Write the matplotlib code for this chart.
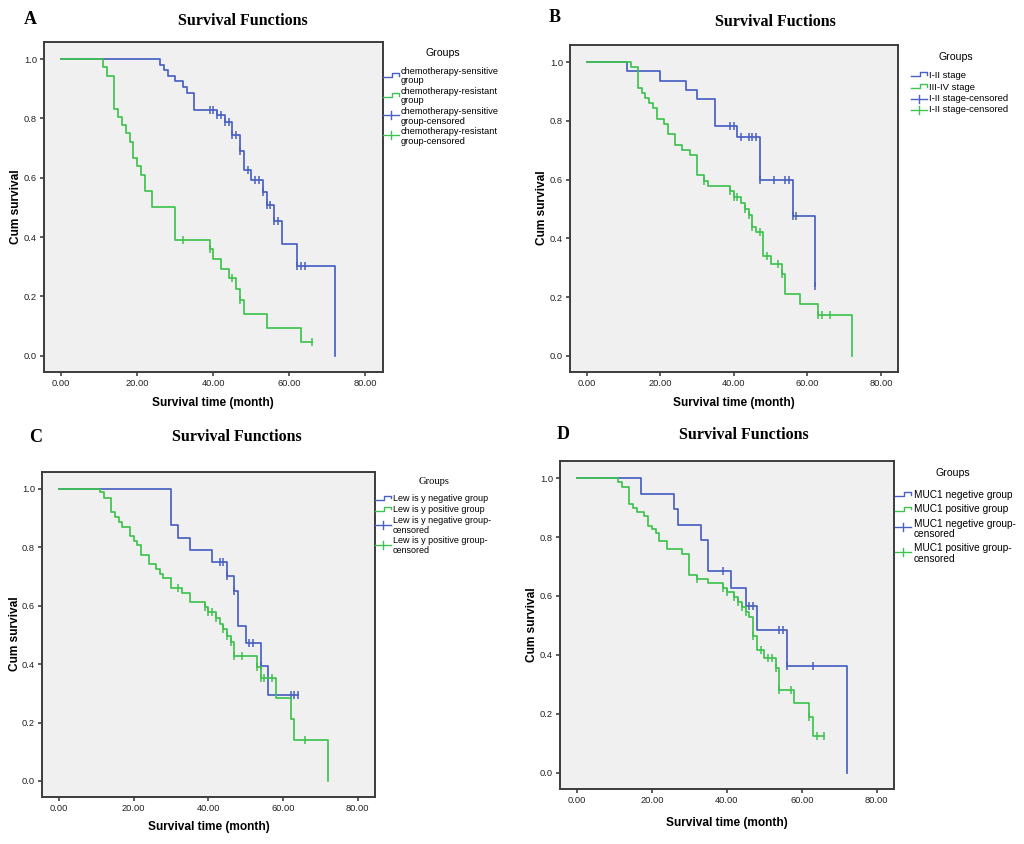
import numpy as np
import matplotlib
matplotlib.use('Agg')
import matplotlib.pyplot as plt
from matplotlib.lines import Line2D
from matplotlib.ticker import FormatStrFormatter

# ---- data ----
# A: chemotherapy-sensitive vs resistant
a_sens_t = [0, 26, 27, 28, 30, 32, 33, 35, 41, 43, 45, 47, 48, 50, 53, 54, 56, 58, 62, 72]
a_sens_s = [1.0, 0.981, 0.962, 0.943, 0.925, 0.906, 0.887, 0.830, 0.811, 0.789, 0.743, 0.691,
            0.625, 0.591, 0.551, 0.507, 0.453, 0.378, 0.301, 0.0]
a_sens_c = [39, 40, 41, 42, 43, 44, 45, 46, 47, 49, 51, 52, 53, 54, 55, 56, 57, 62, 63, 64]
a_res_t = [0, 11, 12, 14, 15, 16, 17, 18, 19, 20, 21, 22, 24, 30, 39, 40, 42, 44, 46, 47, 48, 54, 63]
a_res_s = [1.0, 0.972, 0.944, 0.833, 0.806, 0.778, 0.750, 0.722, 0.667, 0.639, 0.611, 0.556,
           0.500, 0.389, 0.360, 0.327, 0.294, 0.261, 0.224, 0.187, 0.140, 0.093, 0.047]
a_res_c = [32, 39, 45, 47, 66]

# B: I-II stage vs III-IV stage
b_early_t = [0, 11, 20, 27, 30, 35, 41, 47, 56, 62]
b_early_s = [1.0, 0.968, 0.937, 0.906, 0.875, 0.781, 0.746, 0.597, 0.477, 0.239]
b_early_c = [39, 40, 42, 44, 45, 46, 47, 51, 54, 55, 56, 57, 62]
b_late_t = [0, 12, 14, 15, 16, 17, 18, 19, 21, 22, 24, 26, 28, 30, 32, 33, 39, 40, 42, 43, 44,
            45, 46, 48, 50, 53, 54, 58, 63, 72]
b_late_s = [1.0, 0.982, 0.912, 0.895, 0.877, 0.860, 0.842, 0.807, 0.789, 0.754, 0.719, 0.702,
            0.684, 0.614, 0.596, 0.578, 0.560, 0.542, 0.521, 0.500, 0.480, 0.440, 0.420, 0.340,
            0.312, 0.280, 0.210, 0.175, 0.140, 0.0]
b_late_c = [32, 39, 40, 41, 43, 44, 45, 47, 49, 52, 53, 63, 64, 66]

# C: Lewis y negative vs positive
c_neg_t = [0, 30, 32, 35, 41, 45, 47, 48, 50, 54, 56]
c_neg_s = [1.0, 0.875, 0.833, 0.792, 0.750, 0.703, 0.650, 0.532, 0.473, 0.393, 0.295]
c_neg_c = [43, 44, 45, 47, 51, 52, 54, 62, 63, 64]
c_pos_t = [0, 11, 12, 14, 15, 16, 17, 19, 20, 21, 22, 24, 26, 27, 28, 30, 33, 35, 39, 40, 42,
           43, 44, 45, 46, 47, 53, 54, 58, 62, 63, 72]
c_pos_s = [1.0, 0.988, 0.970, 0.920, 0.903, 0.887, 0.871, 0.839, 0.823, 0.807, 0.775, 0.742,
           0.726, 0.710, 0.694, 0.662, 0.645, 0.613, 0.595, 0.578, 0.558, 0.538, 0.519, 0.498,
           0.477, 0.429, 0.390, 0.353, 0.283, 0.212, 0.141, 0.0]
c_pos_c = [32, 39, 40, 41, 42, 44, 45, 46, 47, 49, 53, 54, 55, 57, 66]

# D: MUC1 negative vs positive
d_neg_t = [0, 17, 26, 27, 33, 35, 41, 45, 48, 56, 72]
d_neg_s = [1.0, 0.947, 0.895, 0.842, 0.790, 0.684, 0.628, 0.565, 0.484, 0.363, 0.0]
d_neg_c = [39, 46, 47, 54, 55, 56, 63]
d_pos_t = [0, 11, 12, 14, 15, 16, 18, 19, 20, 21, 22, 24, 28, 30, 32, 35, 39, 40, 42, 43, 44,
           45, 46, 47, 48, 50, 53, 54, 58, 62, 63]
d_pos_s = [1.0, 0.986, 0.971, 0.913, 0.898, 0.886, 0.870, 0.839, 0.828, 0.815, 0.786, 0.758,
           0.742, 0.672, 0.657, 0.643, 0.626, 0.612, 0.595, 0.580, 0.563, 0.546, 0.528, 0.465,
           0.415, 0.388, 0.355, 0.282, 0.236, 0.188, 0.126]
d_pos_c = [32, 39, 40, 42, 43, 44, 45, 47, 49, 51, 52, 53, 54, 57, 62, 64, 66]

x_ticks = [0, 20, 40, 60, 80]
y_ticks = [0.0, 0.2, 0.4, 0.6, 0.8, 1.0]

W, H = 1024, 844
BLUE = '#4a60c2'
GREEN = '#3fc24f'
SANS = 'Liberation Sans'
SERIF = 'Liberation Serif'


def fx(x):
    return x / W


def fy(y):
    return 1 - y / H


def km(ax, t, s, cens, color):
    end = max(t[-1], max(cens))
    ax.step(list(t) + [end], list(s) + [s[-1]], where='post', color=color, lw=1.25)
    idx = np.searchsorted(t, cens, side='right') - 1
    ax.plot(cens, np.array(s)[idx], ls='none', marker='|', ms=6, mew=1.1, color=color)


def style(ax):
    ax.set_facecolor('#f0f0f0')
    ax.set_xlim(-4.5, 84.6)
    ax.set_ylim(-0.055, 1.058)
    ax.set_xticks(x_ticks)
    ax.set_yticks(y_ticks)
    ax.xaxis.set_major_formatter(FormatStrFormatter('%.2f'))
    ax.yaxis.set_major_formatter(FormatStrFormatter('%.1f'))
    ax.tick_params(length=3, width=1.1, color='#333333', labelsize=6.7, pad=2,
                   labelcolor='#222222')
    for lab in ax.get_xticklabels() + ax.get_yticklabels():
        lab.set_family(SANS)
    for sp in ax.spines.values():
        sp.set_color('#3c3c3c')
        sp.set_linewidth(1.4)


def legend(fig, title, title_xy, title_family, sx0, sx1, tx, items, fs):
    fig.text(fx(title_xy[0]), fy(title_xy[1]), title, family=title_family, fontsize=7.6,
             ha='center', va='center')
    for kind, color, label, ysym, ytxt in items:
        if kind == 'step':
            xm = sx0 + 0.55 * (sx1 - sx0)
            xs = [sx0, xm, xm, sx1, sx1]
            ys = [ysym, ysym, ysym - 4, ysym - 4, ysym - 1]
            fig.add_artist(Line2D([fx(v) for v in xs], [fy(v) for v in ys],
                                  transform=fig.transFigure, color=color, lw=1.0))
        else:
            fig.add_artist(Line2D([fx(sx0), fx(sx1)], [fy(ysym), fy(ysym)],
                                  transform=fig.transFigure, color=color, lw=1.0))
            xm = (sx0 + sx1) / 2
            fig.add_artist(Line2D([fx(xm), fx(xm)], [fy(ysym - 4), fy(ysym + 4)],
                                  transform=fig.transFigure, color=color, lw=1.0))
        fig.text(fx(tx), fy(ytxt), label, family=SANS, fontsize=fs, ha='left', va='center',
                 linespacing=1.12)


fig = plt.figure(figsize=(W / 100, H / 100), dpi=100)

panels = [
    dict(box=(44, 42, 383, 372), letter='A', letter_xy=(30, 19), title='Survival Functions',
         title_xy=(243, 21), xl=(213, 403), yl=(16, 207),
         curves=[(a_sens_t, a_sens_s, a_sens_c, BLUE), (a_res_t, a_res_s, a_res_c, GREEN)]),
    dict(box=(570, 45, 898, 372), letter='B', letter_xy=(555, 17), title='Survival Fuctions',
         title_xy=(775, 22), xl=(734, 403), yl=(542, 208),
         curves=[(b_early_t, b_early_s, b_early_c, BLUE), (b_late_t, b_late_s, b_late_c, GREEN)]),
    dict(box=(42, 472, 375, 797), letter='C', letter_xy=(36, 437), title='Survival Functions',
         title_xy=(237, 437), xl=(209, 827), yl=(15, 634),
         curves=[(c_neg_t, c_neg_s, c_neg_c, BLUE), (c_pos_t, c_pos_s, c_pos_c, GREEN)]),
    dict(box=(560, 461, 894, 789), letter='D', letter_xy=(563, 434), title='Survival Functions',
         title_xy=(744, 435), xl=(727, 823), yl=(532, 625),
         curves=[(d_neg_t, d_neg_s, d_neg_c, BLUE), (d_pos_t, d_pos_s, d_pos_c, GREEN)]),
]

for p in panels:
    x0, y0, x1, y1 = p['box']
    ax = fig.add_axes([x0 / W, 1 - y1 / H, (x1 - x0) / W, (y1 - y0) / H])
    for t, s, c, col in p['curves']:
        km(ax, t, s, c, col)
    style(ax)
    fig.text(fx(p['letter_xy'][0]), fy(p['letter_xy'][1]), p['letter'], family=SERIF,
             fontweight='bold', fontsize=13, ha='center', va='center')
    fig.text(fx(p['title_xy'][0]), fy(p['title_xy'][1]), p['title'], family=SERIF,
             fontweight='bold', fontsize=11.5, ha='center', va='center')
    fig.text(fx(p['xl'][0]), fy(p['xl'][1]), 'Survival time (month)', family=SANS,
             fontweight='bold', fontsize=8.6, ha='center', va='center')
    fig.text(fx(p['yl'][0]), fy(p['yl'][1]), 'Cum survival', family=SANS,
             fontweight='bold', fontsize=8.6, ha='center', va='center', rotation=90)

legend(fig, 'Groups', (443, 53), SANS, 383, 399, 401, [
    ('step', BLUE, 'chemotherapy-sensitive\ngroup', 76.5, 76),
    ('step', GREEN, 'chemotherapy-resistant\ngroup', 96.5, 96),
    ('cens', BLUE, 'chemotherapy-sensitive\ngroup-censored', 115, 116.3),
    ('cens', GREEN, 'chemotherapy-resistant\ngroup-censored', 135, 136.7),
], 6.7)

legend(fig, 'Groups', (956, 57), SANS, 911, 927, 929, [
    ('step', BLUE, 'I-II stage', 76, 75),
    ('step', GREEN, 'III-IV stage', 88, 87),
    ('cens', BLUE, 'I-II stage-censored', 98.5, 98.7),
    ('cens', GREEN, 'I-II stage-censored', 110, 110),
], 6.8)

legend(fig, 'Groups', (434, 482), SERIF, 375, 391, 393, [
    ('step', BLUE, 'Lew is y negative group', 499.5, 498.7),
    ('step', GREEN, 'Lew is y positive group', 510.5, 510),
    ('cens', BLUE, 'Lew is y negative group-\ncensored', 524.7, 525.9),
    ('cens', GREEN, 'Lew is y positive group-\ncensored', 544.7, 545.9),
], 6.5)

legend(fig, 'Groups', (953, 473), SANS, 895, 911, 914, [
    ('step', BLUE, 'MUC1 negetive group', 496, 495),
    ('step', GREEN, 'MUC1 positive group', 510.5, 509.3),
    ('cens', BLUE, 'MUC1 negetive group-\ncensored', 527.3, 529),
    ('cens', GREEN, 'MUC1 positive group-\ncensored', 552.3, 553.7),
], 7.3)

fig.savefig('out.png', dpi=100)
